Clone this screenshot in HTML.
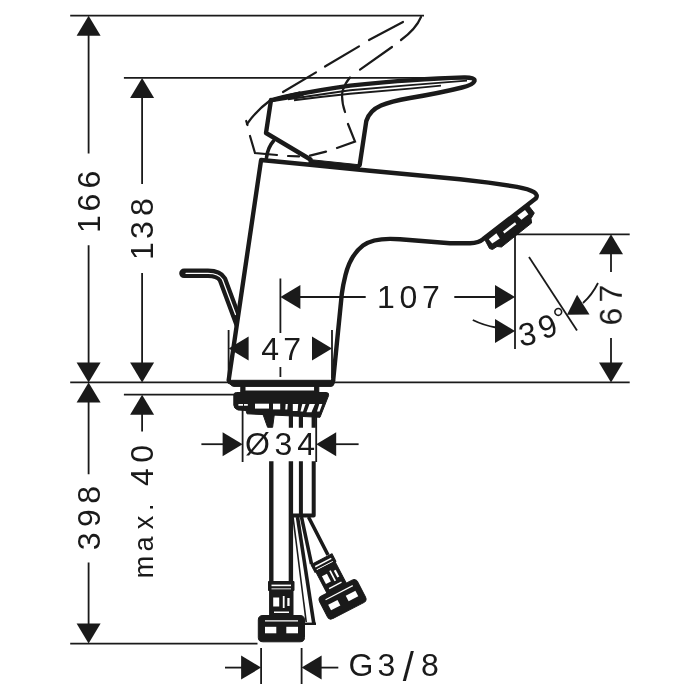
<!DOCTYPE html>
<html lang="en">
<head>
<meta charset="utf-8">
<title>Basin mixer dimensions</title>
<style>
html,body{margin:0;padding:0;background:#fff;}
body{width:700px;height:700px;overflow:hidden;}
svg{display:block;}
.t{font-family:"Liberation Sans",sans-serif;font-size:32px;fill:#1a1a1a;}
.d{stroke:#1a1a1a;stroke-width:1.8;fill:none;}
.k{stroke:#1a1a1a;stroke-width:4.4;fill:none;stroke-linejoin:round;stroke-linecap:round;}
.m{stroke:#1a1a1a;stroke-width:2.6;fill:none;stroke-linejoin:round;stroke-linecap:butt;}
.n{stroke:#1a1a1a;stroke-width:1.9;fill:none;}
.e{stroke-width:2.2;stroke-linecap:round;}
.a{fill:#1a1a1a;stroke:none;}
.w{fill:#fff;stroke:none;}
.b{fill:#1a1a1a;stroke:#1a1a1a;stroke-width:1;stroke-linejoin:round;}
</style>
</head>
<body>
<svg width="700" height="700" viewBox="0 0 700 700">
<rect width="700" height="700" fill="#fff"/>

<g id="dims">
<path class="d" d="M70.2 15.7H424"/>
<path class="d" d="M123.9 77.9H436"/>
<path class="d" d="M70.2 382.4H629.7"/>
<path class="d" d="M123.9 394.7H236"/>
<path class="d" d="M70.2 643.6H257.5"/>
<path class="d" d="M515 234.3H629.7"/>
<path class="d" d="M515 234.3V349"/>
<path class="d" d="M88.6 35V153.4M88.6 245.2V363"/>
<path class="a" d="M88.6 15.7 L100.6 35.7 L76.6 35.7Z"/>
<path class="a" d="M88.6 382.4 L100.6 362.4 L76.6 362.4Z"/>
<path class="a" d="M88.6 382.4 L100.6 402.4 L76.6 402.4Z"/>
<path class="d" d="M88.6 401V474.3M88.6 562.5V625"/>
<path class="a" d="M88.6 643.6 L100.6 623.6 L76.6 623.6Z"/>
<path class="d" d="M142.1 97V184M142.1 273V363"/>
<path class="a" d="M142.1 77.9 L154.1 97.9 L130.1 97.9Z"/>
<path class="a" d="M142.1 382.4 L154.1 362.4 L130.1 362.4Z"/>
<path class="a" d="M142.1 394.7 L154.1 414.7 L130.1 414.7Z"/>
<path class="d" d="M142.1 414V431.5"/>
<path class="a" d="M611 234.3 L623 254.3 L599 254.3Z"/>
<path class="d" d="M611 253V272M611 338V364"/>
<path class="a" d="M611 382.4 L623 362.4 L599 362.4Z"/>
<path class="d" d="M280.4 278.5V333M280.4 367V377"/>
<path class="a" d="M280.4 297 L300.4 285 L300.4 309Z"/>
<path class="d" d="M299 297H365.7M454.3 297H496"/>
<path class="a" d="M515 297 L495 285 L495 309Z"/>
<path class="d" d="M228.6 330V378M332 330V378"/>
<path class="a" d="M228.6 348.6 L248.6 336.6 L248.6 360.6Z"/>
<path class="a" d="M332 348.6 L312 336.6 L312 360.6Z"/>
<path class="a" d="M515 331 L495 319 L495 343Z"/>
<path class="d" d="M472.8 320Q484 325.500 496 327.5"/>
<path class="d" d="M529 257L577 330.4"/>
<path class="a" d="M567 314.8L577.1 294.8L589.5 314.5Z"/>
<path class="d" d="M583 303Q592 295 598 283"/>
<path class="d" d="M242.6 409V462M316.2 409V462"/>
<path class="a" d="M242.6 444.2 L222.6 432.2 L222.6 456.2Z"/>
<path class="d" d="M201.4 444.2H224"/>
<path class="a" d="M316.2 444.2 L336.2 432.2 L336.2 456.2Z"/>
<path class="d" d="M335 444.2H358.6"/>
<path class="d" d="M261.1 648V684M301.6 648V684"/>
<path class="a" d="M261.1 667.6 L241.1 655.6 L241.1 679.6Z"/>
<path class="d" d="M225 667.6H242"/>
<path class="a" d="M301.6 667.6 L321.6 655.6 L321.6 679.6Z"/>
<path class="d" d="M320.5 667.6H338.3"/>
</g>
<g id="faucet">
<path class="d e" d="M246.2 121L247.5 125"/>
<path class="d e" d="M247 124Q257 110 270 100.5"/>
<path class="d e" d="M283 92L316 72.4M325 66.500L359 46.4M369 40L403 22"/>
<path class="d e" d="M360 69.6L392 47"/>
<path class="d e" d="M401 40Q416 29 421 17"/>
<path class="d e" d="M250 136L255 153L277 155M288 156L299 156.4M310 155.6L326 151.6M337 148L355 141.6L348 124M345 112Q341 100 342.500 91Q345 83 350 77.5"/>
<clipPath id="rc"><path d="M0 200L256 200L230.500 378L0 378Z"/></clipPath>
<g clip-path="url(#rc)"><path class="k" style="stroke-width:9.6px" d="M184 273.3H208Q219 273.3 222.5 279.5L242 332"/>
<path style="stroke:#fff;stroke-width:1.3px;fill:none;stroke-linecap:round;stroke-linejoin:round" d="M186 273.3H208Q219 273.3 222.5 279.5L235.5 314.5"/></g>
<path class="k" d="M271 100.3C290 94.5 320 90 350 85.6C380 82.5 400 81 410 80.4C430 78.8 450 77.8 464 77.5Q475.3 77.3 474.5 81Q473 85 462 87.5Q440 93 410 98Q390 101.5 381 105.5Q369.5 110.5 366.3 121L359.700 165"/>
<path class="a" d="M270 98.8L300 91.3L304 96L286 100L272 102.3Z"/>
<path class="n" d="M288 99.2Q320 94.5 350 90.3L410 85.1L467 80.6"/>
<path class="n" d="M294 100.2Q322 96.6 350 93.7L410 88.6L441 85.6"/>
<path class="k" d="M271 100L266 133L310.500 159.500"/>
<path class="m" style="stroke-linecap:round;stroke-width:3.600px" d="M266.500 157.500Q268 147 273.500 141"/>
<path class="b" d="M309 159.500L359.500 164.800V169.500L309 165.200Z"/>
<path class="k" d="M228.700 380L261.100 160L310 164.800L370 170.800L460 179.200L488.600 182.600L517 186.900Q529 189.200 534 192.200Q538.500 195 535.700 198.600L483.500 238.800Q479 242.800 470 243.200L450 243.200L400 239.300C385 238 372 239 363 245.500C353 253 348 265 345.500 275C343.500 283 342.300 290 341.800 294L333.200 380"/>
<path class="b" d="M227.300 380.300H334.900L334.200 383.500Q333.5 386.400 331 386.400H234Q231.500 386.400 230 384L227.800 383Z"/>
<path class="b" d="M485 240L528.500 205.500L534.300 213L531 218.500L531.600 223L501.500 247L497 246.500L492.500 249.500L489.500 248.500Z"/>
<path class="w" d="M517.300 215.700L525 210L528.400 214.300L521.400 219.800Z"/>
<path class="w" d="M503 231.400L515 222.200L516.400 224.300L504.400 233.500Z"/>
<path class="w" d="M488.800 239.300L496.400 233.200L499.800 238.500L492.200 243.500Z"/>
</g>
<g id="below">
<path class="b" d="M240.800 386.500H245V392.500H240.800ZM314.600 386.500H318.800V392.500H314.600Z"/>
<path class="a" d="M240.800 390.500H318.800V393H240.800Z"/>
<path class="b" d="M236.500 392.500H326Q329.300 392.500 328.600 395.500L320 417.300L247 413.800L246 410.500L238 410Q233.800 408.500 233.800 405V395Q233.800 392.500 236.500 392.500Z"/>
<path class="w" d="M238.400 404H243V405.700H238.400ZM244 404H247.800V405.700H244Z"/>
<path class="w" d="M255 403.700H269V408.600H255Z"/>
<path class="w" d="M273 403.700H280.200V409.400H273Z"/>
<path class="w" d="M285.600 404H287.800L287.300 409.600H285.300Z"/>
<path class="w" d="M292.800 404H298.200L297.600 411H292.800Z"/>
<path class="w" d="M302.300 404H305.600L303 411.500H300.500Z"/>
<path class="w" d="M309.500 404H315L311.500 412.300H306.500Z"/>
<path class="w" d="M319.300 404H322.300L319.500 411.500H317Z"/>
<path class="b" d="M262.500 413H274.500L272.600 427.300H267.600Z"/>
<path class="m" style="stroke-width:4.200px" d="M290.900 413V427.800M300.900 413V427.800M313.700 414V427.800"/>
<path class="m" style="stroke-width:4.400px" d="M271.300 461.300V583M290.900 461.300V583"/>
<path class="m" style="stroke-width:4px" d="M300.900 461.300V515M313.700 461.300V515.500H292"/>
<path class="m" style="stroke-width:1.600px" d="M293 517L306.200 622"/>
<path class="m" style="stroke-width:3.600px" d="M297.500 517L313.800 623.500"/>
<path class="m" style="stroke-width:2.400px" d="M305 623.800H316"/>
<path class="m" style="stroke-width:3.600px" d="M301.500 517L311.500 564M308.500 517L328 555"/>
<g id="c1"><path class="b" d="M268.5 581.5H294V590.5H268.5Z"/>
<path class="w" d="M271.5 584.6H291V586.2H271.5Z"/>
<path class="w" d="M271.5 588.4H291V589.6H271.5Z"/>
<path class="b" d="M269.6 590H293V616H269.6Z"/>
<path class="w" d="M273.2 597.5H279.2V606.5H273.2Z"/>
<path class="w" d="M282.8 596H284.6V608H282.8Z"/>
<path class="w" d="M287.3 598H289.6V606H287.3Z"/>
<path class="w" d="M274 611.5H289V613H274Z"/>
<path class="b" d="M263 615.5H300Q304.5 615.5 304.5 620V637.5Q304.5 641.8 300 641.8H263Q258.3 641.8 258.3 637.5V620Q258.3 615.5 263 615.5Z"/>
<path class="w" d="M265 620.3H298V621.5H265Z"/>
<path class="w" d="M265 626.8H276.3V633.3H265Z"/>
<path class="w" d="M286.3 626.8H298V633.3H286.3Z"/></g>
<g id="c2" transform="translate(342.5 599.3) rotate(-27.5) scale(0.93 0.96) translate(-281.4 -628.6)"><path class="b" d="M268.5 581.5H294V590.5H268.5Z"/>
<path class="w" d="M271.5 584.6H291V586.2H271.5Z"/>
<path class="w" d="M271.5 588.4H291V589.6H271.5Z"/>
<path class="b" d="M269.6 590H293V616H269.6Z"/>
<path class="w" d="M273.2 597.5H279.2V606.5H273.2Z"/>
<path class="w" d="M282.8 596H284.6V608H282.8Z"/>
<path class="w" d="M287.3 598H289.6V606H287.3Z"/>
<path class="w" d="M274 611.5H289V613H274Z"/>
<path class="b" d="M263 615.5H300Q304.5 615.5 304.5 620V637.5Q304.5 641.8 300 641.8H263Q258.3 641.8 258.3 637.5V620Q258.3 615.5 263 615.5Z"/>
<path class="w" d="M265 620.3H298V621.5H265Z"/>
<path class="w" d="M265 626.8H276.3V633.3H265Z"/>
<path class="w" d="M286.3 626.8H298V633.3H286.3Z"/></g>
</g>
<g id="labels" opacity="0.999">
<text class="t" transform="translate(100.4 0) rotate(-90)"><tspan x="-232.9 -211.6 -188.5">166</tspan></text>
<text class="t" transform="translate(153.4 0) rotate(-90)"><tspan x="-260.1 -239.1 -216.0">138</tspan></text>
<text class="t" transform="translate(100.2 0) rotate(-90)"><tspan x="-550.3 -527.1 -503.7">398</tspan></text>
<text class="t" transform="translate(153.3 0) rotate(-90)"><tspan x="-578.3 -551.6 -529.2 -510.9 -496.0" style="font-size:27px">max. </tspan><tspan x="-485.9 -462.7">40</tspan></text>
<text class="t" transform="translate(621.8 0) rotate(-90)"><tspan x="-325.4 -302.6">67</tspan></text>
<text class="t" y="308.1"><tspan x="377.1 399.5 422.0">107</tspan></text>
<text class="t" y="359.7"><tspan x="261.2 283.2">47</tspan></text>
<text class="t" y="455.4"><tspan x="245.0 274.4 297.2">Ø34</tspan></text>
<text class="t" y="676.3"><tspan x="348.4 377.6">G3</tspan><tspan x="402.7" dy="5" style="font-size:40px">/</tspan><tspan x="421" dy="-5">8</tspan></text>
<text class="t" x="520 543 558.9" y="346.2 339.800 329.8" rotate="-8 -20 -22">39<tspan style="font-size:30px">°</tspan></text>
</g>
</svg>
</body>
</html>
